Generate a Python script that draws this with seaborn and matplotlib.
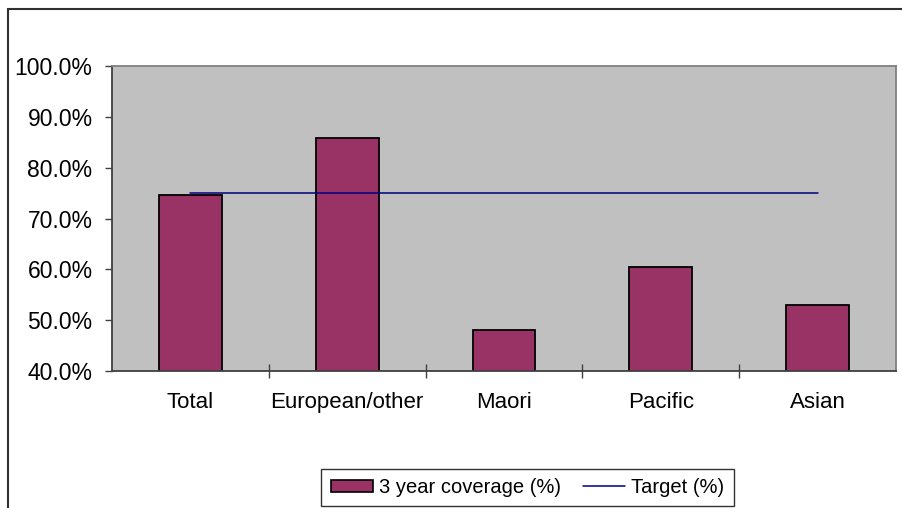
import numpy as np
import pandas as pd
import matplotlib
matplotlib.use('Agg')
import matplotlib.pyplot as plt
import seaborn as sns
from matplotlib.patches import Rectangle, Patch
from matplotlib.lines import Line2D
from matplotlib.ticker import FuncFormatter, FixedLocator

# Coverage data
groups = ['Total', 'European/other', 'Maori', 'Pacific', 'Asian']
coverage = [74.6, 85.8, 48.0, 60.5, 52.9]
target = [75.0, 75.0, 75.0, 75.0, 75.0]

df = pd.DataFrame({'Group': groups, 'Coverage': coverage, 'Target': target})

sns.set_style('white')
plt.rcParams['font.family'] = ['Liberation Sans', 'DejaVu Sans']
plt.rcParams['text.color'] = 'black'

fig = plt.figure(figsize=(9.02, 5.08), dpi=100)
ax = fig.add_axes([112 / 902, 1 - 371 / 508, 784 / 902, 305 / 508])
ax.set_facecolor('#C0C0C0')

sns.barplot(data=df, x='Group', y='Coverage', color='#993366', width=0.4,
            edgecolor='black', linewidth=1.3, saturation=1, ax=ax)
ax.plot(np.arange(len(groups)), df['Target'], color='#000080', linewidth=1.1)

ax.set_xlim(-0.5, len(groups) - 0.5)
ax.set_ylim(40, 100)
ax.set_yticks(np.arange(40, 101, 10))
ax.yaxis.set_major_formatter(FuncFormatter(lambda v, p: f'{v:.1f}%'))
ax.set_xlabel('')
ax.set_ylabel('')

ax.tick_params(axis='y', which='major', direction='out', length=5, width=1,
               color='#404040', pad=9, labelsize=16.5, labelcolor='black',
               left=True)
ax.tick_params(axis='x', which='major', length=0, pad=15, labelsize=16,
               labelcolor='black')
ax.xaxis.set_minor_locator(FixedLocator(np.arange(0.5, len(groups) - 0.5, 1)))
ax.tick_params(axis='x', which='minor', direction='inout', length=10, width=1,
               color='#404040', bottom=True)

for side in ['left', 'bottom']:
    ax.spines[side].set_color('#404040')
    ax.spines[side].set_linewidth(1.3)
for side in ['top', 'right']:
    ax.spines[side].set_visible(True)
    ax.spines[side].set_color('#808080')
    ax.spines[side].set_linewidth(1.3)

# Outer chart border (cropped at right and bottom)
fig.patches.append(Rectangle((8 / 902, -0.1), 1.2, 1 - 9 / 508 + 0.1,
                             transform=fig.transFigure, fill=False,
                             edgecolor='#303030', linewidth=1.5))

handles = [Patch(facecolor='#993366', edgecolor='black', linewidth=1.2),
           Line2D([0], [0], color='#000080', linewidth=1.1)]
leg = fig.legend(handles, ['3 year coverage (%)', 'Target (%)'], ncol=2,
                 loc='center', bbox_to_anchor=(527.5 / 902, 1 - 487.5 / 508),
                 fontsize=14.5, frameon=True, fancybox=False, handlelength=2.1,
                 handleheight=0.6, handletextpad=0.3, columnspacing=1.1,
                 borderpad=0.45, borderaxespad=0)
leg.get_frame().set_edgecolor('black')
leg.get_frame().set_linewidth(1.0)

fig.savefig('out.png', dpi=100)
